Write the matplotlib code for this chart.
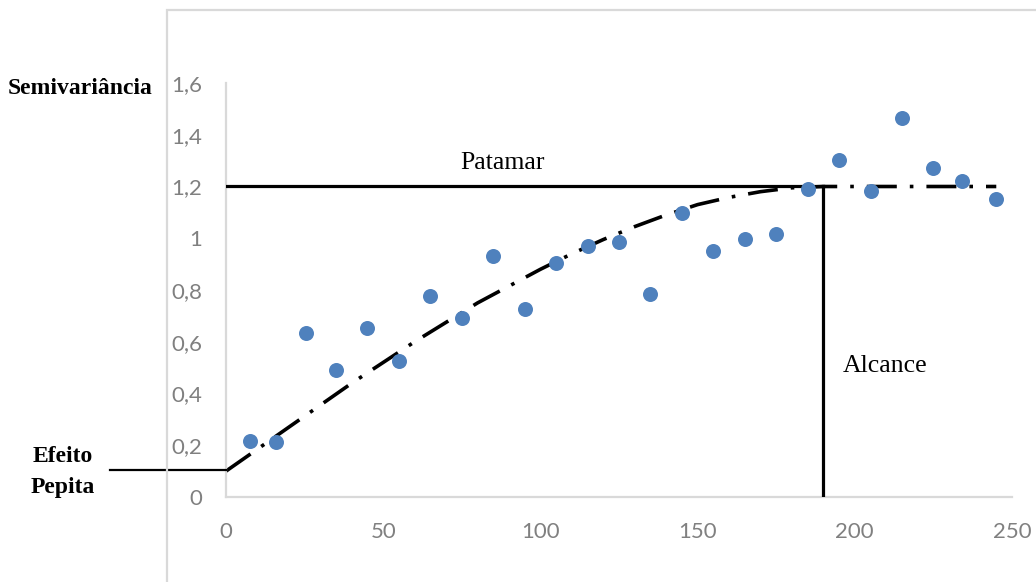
import matplotlib.pyplot as plt
from matplotlib.patches import Rectangle

# experimental semivariogram points (lag distance, semivariance)
lag = [7.5, 16, 25.5, 35, 45, 55, 65, 75, 85, 95, 105, 115, 125, 135,
       145, 155, 165, 175, 185, 195, 205, 215, 225, 234, 245]
semivar = [0.216, 0.213, 0.632, 0.491, 0.652, 0.526, 0.778, 0.693, 0.931,
           0.727, 0.906, 0.970, 0.984, 0.785, 1.099, 0.950, 0.996, 1.015,
           1.189, 1.302, 1.184, 1.466, 1.273, 1.222, 1.152]

# fitted model curve
model_x = [0, 10, 20, 30, 40, 50, 60, 70, 80, 90, 100, 110, 120, 130,
           140, 150, 160, 170, 180, 190, 245]
model_y = [0.10, 0.185, 0.27, 0.355, 0.44, 0.52, 0.60, 0.675, 0.75, 0.815,
           0.88, 0.94, 0.995, 1.045, 1.09, 1.13, 1.158, 1.18, 1.195, 1.20, 1.20]

nugget = 0.104
sill = 1.2
range_ = 190

xticks = [0, 50, 100, 150, 200, 250]
yticks = [0, 0.2, 0.4, 0.6, 0.8, 1, 1.2, 1.4, 1.6]
ytick_labels = ["0", "0,2", "0,4", "0,6", "0,8", "1", "1,2", "1,4", "1,6"]

fig = plt.figure(figsize=(10.36, 5.82), dpi=100)
ax = fig.add_axes([226 / 1036, 85 / 582, 786 / 1036, 414 / 582])

# outer chart frame (light gray, runs off the right and bottom edges)
fig.add_artist(Rectangle((167 / 1036, -0.1), 1.0, (572 / 582) + 0.1,
                         transform=fig.transFigure, fill=False,
                         ec="#d9d9d9", lw=1.6))

ax.plot(model_x, model_y, color="black", lw=2.6,
        linestyle=(0, (8.3, 3.6, 1, 3.6)), dash_capstyle="butt", zorder=2)

ax.plot([0, range_], [sill, sill], color="black", lw=2.3, zorder=3)
ax.plot([range_, range_], [0, sill], color="black", lw=2.3, zorder=3)
ax.plot([-37, 0], [nugget, nugget], color="black", lw=1.6, clip_on=False, zorder=3)

ax.plot(lag, semivar, "o", color="#4f81bd", ms=10.8, mec="none", zorder=4)

ax.set_xlim(0, 250)
ax.set_ylim(0, 1.6)
ax.set_xticks(xticks)
ax.set_yticks(yticks)
ax.set_yticklabels(ytick_labels)
ax.tick_params(length=0, colors="#808080", labelsize=16)
ax.tick_params(axis="y", pad=17)
ax.tick_params(axis="x", pad=18)
for lab in ax.get_xticklabels() + ax.get_yticklabels():
    lab.set_family("Lato")

for s in ["top", "right"]:
    ax.spines[s].set_visible(False)
for s in ["left", "bottom"]:
    ax.spines[s].set_color("#d9d9d9")
    ax.spines[s].set_linewidth(1.6)

serif = "Liberation Serif"
ax.text(88, 1.29, "Patamar", family=serif, fontsize=18.5, ha="center", va="center")
ax.text(209.5, 0.506, "Alcance", family=serif, fontsize=18.5, ha="center", va="center")

fig.text(8 / 1036, 1 - 88 / 582, "Semivariância", family=serif, fontsize=17,
         fontweight="bold", ha="left", va="center")
fig.text(63 / 1036, 1 - 457 / 582, "Efeito", family=serif, fontsize=17,
         fontweight="bold", ha="center", va="center")
fig.text(63 / 1036, 1 - 488 / 582, "Pepita", family=serif, fontsize=17,
         fontweight="bold", ha="center", va="center")

fig.savefig("out.png", dpi=100)
